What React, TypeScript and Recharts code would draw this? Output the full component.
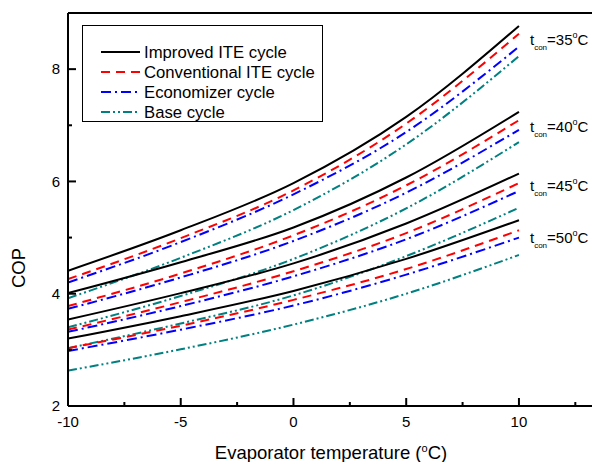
import { LineChart, Line, XAxis, YAxis, ReferenceLine } from "recharts";

// evaporator temperature (°C)
const evapTemps = [-10, -5, 0, 5, 10];

// t_con = 35 °C
const improved35 = [4.41, 5.13, 5.97, 7.15, 8.77];
const conventional35 = [4.26, 4.99, 5.84, 7.03, 8.63];
const economizer35 = [4.2, 4.92, 5.77, 6.88, 8.4];
const base35 = [3.92, 4.64, 5.49, 6.66, 8.23];

// t_con = 40 °C
const improved40 = [4.01, 4.56, 5.18, 6.07, 7.24];
const conventional40 = [3.78, 4.36, 5.04, 5.93, 7.09];
const economizer40 = [3.73, 4.29, 4.94, 5.8, 6.92];
const base40 = [3.4, 3.96, 4.62, 5.52, 6.7];

// t_con = 45 °C
const improved45 = [3.54, 4.01, 4.54, 5.25, 6.14];
const conventional45 = [3.36, 3.85, 4.4, 5.08, 5.97];
const economizer45 = [3.32, 3.78, 4.31, 4.97, 5.83];
const base45 = [3.03, 3.47, 3.97, 4.67, 5.53];

// t_con = 50 °C
const improved50 = [3.2, 3.6, 4.05, 4.62, 5.31];
const conventional50 = [3.03, 3.43, 3.89, 4.44, 5.13];
const economizer50 = [2.98, 3.36, 3.79, 4.34, 5.0];
const base50 = [2.63, 3.01, 3.45, 4.0, 4.69];

const xTicks = [-10, -7.5, -5, -2.5, 0, 2.5, 5, 7.5, 10, 12.5];
const yTicks = [2, 3, 4, 5, 6, 7, 8];
const conLabels = ["35", "40", "45", "50"];

const cycles = [
  { key: "improved", name: "Improved ITE cycle", color: "#000000", dash: undefined },
  { key: "conventional", name: "Conventional ITE cycle", color: "#ff0000", dash: "9 6" },
  { key: "economizer", name: "Economizer cycle", color: "#0000ff", dash: "10 4 2 4" },
  { key: "base", name: "Base cycle", color: "#008080", dash: "9 3 2 3 2 3" },
];

const seriesData: Record<string, number[]> = {
  improved35, conventional35, economizer35, base35,
  improved40, conventional40, economizer40, base40,
  improved45, conventional45, economizer45, base45,
  improved50, conventional50, economizer50, base50,
};

const rows = evapTemps.map((t, i) => {
  const row: Record<string, number> = { t };
  Object.keys(seriesData).forEach((k) => {
    row[k] = seriesData[k][i];
  });
  return row;
});

const FONT = '"Liberation Sans", Arial, sans-serif';

function XTick(props: any) {
  const { x, y, payload } = props;
  const major = payload.value % 5 === 0;
  return (
    <g>
      <line x1={x} x2={x} y1={y} y2={y - (major ? 8 : 4)} stroke="#000" strokeWidth={2} />
      {major && (
        <text x={x} y={y + 20.5} textAnchor="middle" fontSize={15} fill="#000" fontFamily={FONT}>
          {payload.value}
        </text>
      )}
    </g>
  );
}

function YTick(props: any) {
  const { x, y, payload } = props;
  const major = payload.value % 2 === 0;
  return (
    <g>
      <line x1={x} x2={x + (major ? 8 : 4)} y1={y} y2={y} stroke="#000" strokeWidth={2} />
      {major && (
        <text x={x - 8} y={y + 5.3} textAnchor="end" fontSize={15} fill="#000" fontFamily={FONT}>
          {payload.value}
        </text>
      )}
    </g>
  );
}

const conLabelY = [45, 132, 190.7, 243];

export default function App() {
  return (
    <div
      style={{
        position: "absolute",
        left: 0,
        top: 0,
        width: 592,
        height: 462,
        background: "#fff",
        fontFamily: FONT,
        overflow: "hidden",
      }}
    >
      <LineChart width={592} height={462} data={rows} margin={{ top: 13, right: 0, bottom: 0, left: 0 }}>
        <XAxis
          dataKey="t"
          type="number"
          domain={[-10, 13.24]}
          allowDataOverflow
          ticks={xTicks}
          interval={0}
          tickSize={0}
          tickMargin={0}
          height={56}
          axisLine={{ stroke: "#000", strokeWidth: 2 }}
          tickLine={false}
          tick={<XTick />}
        />
        <YAxis
          type="number"
          domain={[2, 9]}
          allowDataOverflow
          ticks={yTicks}
          interval={0}
          tickSize={0}
          tickMargin={0}
          width={68}
          axisLine={{ stroke: "#000", strokeWidth: 2 }}
          tickLine={false}
          tick={<YTick />}
        />
        <ReferenceLine y={9} stroke="#000" strokeWidth={2} />
        {conLabels.map((c) =>
          cycles.map((cy) => (
            <Line
              key={cy.key + c}
              dataKey={cy.key + c}
              type="monotone"
              stroke={cy.color}
              strokeWidth={2}
              strokeDasharray={cy.dash}
              dot={false}
              activeDot={false}
              isAnimationActive={false}
            />
          ))
        )}
      </LineChart>

      <svg
        width={592}
        height={462}
        style={{ position: "absolute", left: 0, top: 0, pointerEvents: "none" }}
        fontFamily={FONT}
      >
        {/* legend */}
        <rect x={82.5} y={25.5} width={240} height={96} fill="none" stroke="#000" strokeWidth={1} />
        {cycles.map((cy, i) => (
          <g key={cy.key}>
            <line
              x1={101}
              x2={140}
              y1={52 + i * 20}
              y2={52 + i * 20}
              stroke={cy.color}
              strokeWidth={2}
              strokeDasharray={cy.dash}
            />
            <text x={144} y={52 + i * 20 + 6} fontSize={16.7} fill="#000">
              {cy.name}
            </text>
          </g>
        ))}

        {/* condensing temperature labels */}
        {conLabels.map((c, i) => (
          <text key={c} x={530} y={conLabelY[i]} fontSize={15} fill="#000">
            t
            <tspan fontSize={8} dy={5}>con</tspan>
            <tspan fontSize={15} dy={-5}>={c}</tspan>
            <tspan fontSize={9} dy={-7}>o</tspan>
            <tspan fontSize={15} dy={7}>C</tspan>
          </text>
        ))}

        {/* axis titles */}
        <text x={331} y={459} textAnchor="middle" fontSize={18.5} fill="#000">
          Evaporator temperature (
          <tspan fontSize={11} dy={-7}>o</tspan>
          <tspan dy={7}>C)</tspan>
        </text>
        <text
          x={18}
          y={268}
          textAnchor="middle"
          dominantBaseline="central"
          fontSize={18.5}
          fill="#000"
          transform="rotate(-90 18 268)"
        >
          COP
        </text>
      </svg>
    </div>
  );
}
